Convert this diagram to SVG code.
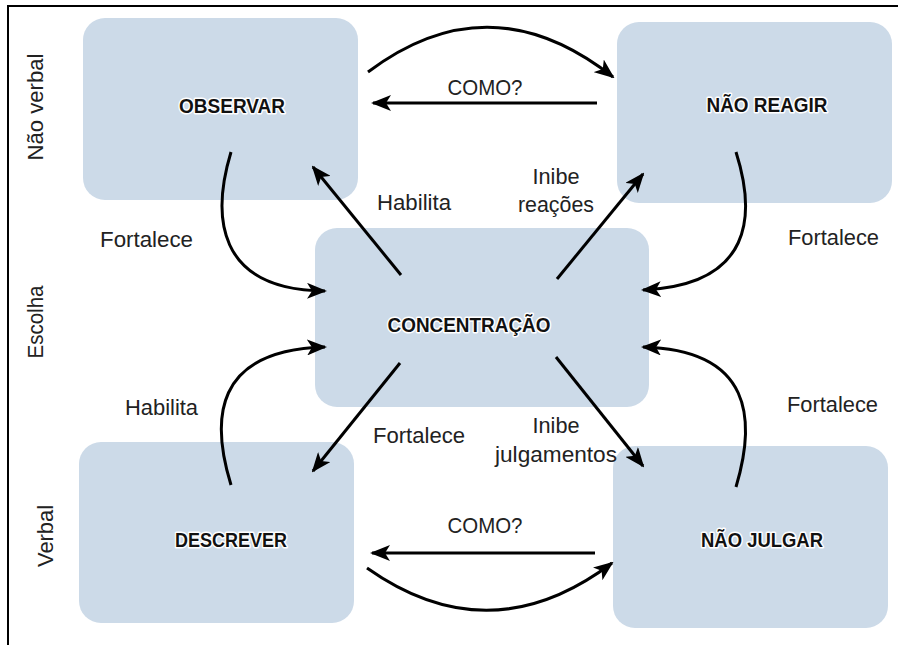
<svg xmlns="http://www.w3.org/2000/svg" width="898" height="645" viewBox="0 0 898 645">
<defs>
<style>
.box{fill:#ccdae8;}
.t{font-family:"Liberation Sans",Arial,sans-serif;font-size:20px;font-weight:bold;fill:#111;text-anchor:middle;stroke:#fff;stroke-width:3;stroke-linejoin:round;paint-order:stroke;}
.l{font-family:"Liberation Sans",Arial,sans-serif;font-size:22px;fill:#222;}
.side{font-family:"Liberation Sans",Arial,sans-serif;font-size:22px;fill:#222;text-anchor:middle;}
.c{fill:none;stroke:#000;stroke-width:3;}
</style>
<marker id="ah" markerUnits="userSpaceOnUse" markerWidth="20" markerHeight="16" viewBox="0 0 20 16" refX="18" refY="8" orient="auto">
<path d="M0,0 L20,8 L0,16 L5,8 Z" fill="#000"/>
</marker>
</defs>
<rect width="898" height="645" fill="#fff"/>
<g id="frame">
<line x1="7" y1="6" x2="898" y2="6" stroke="#000" stroke-width="2"/>
<line x1="8" y1="5" x2="8" y2="645" stroke="#000" stroke-width="2"/>
</g>
<g id="side-labels">
<text class="side" transform="translate(43,107) rotate(-90)" textLength="107" lengthAdjust="spacingAndGlyphs">Não verbal</text>
<text class="side" transform="translate(43,322) rotate(-90)" textLength="73" lengthAdjust="spacingAndGlyphs">Escolha</text>
<text class="side" transform="translate(53,536) rotate(-90)" textLength="62" lengthAdjust="spacingAndGlyphs">Verbal</text>
</g>
<g id="observar"><rect class="box" x="83" y="18" width="275" height="182" rx="22"/><text class="t" x="232" y="113" textLength="106" lengthAdjust="spacingAndGlyphs">OBSERVAR</text></g>
<g id="nao-reagir"><rect class="box" x="617" y="22" width="275" height="181" rx="22"/><text class="t" x="767" y="112" textLength="121" lengthAdjust="spacingAndGlyphs">NÃO REAGIR</text></g>
<g id="concentracao"><rect class="box" x="315" y="228" width="334" height="179" rx="22"/><text class="t" x="469" y="332" textLength="163" lengthAdjust="spacingAndGlyphs">CONCENTRAÇÃO</text></g>
<g id="descrever"><rect class="box" x="79" y="442" width="275" height="181" rx="22"/><text class="t" x="231" y="547" textLength="112" lengthAdjust="spacingAndGlyphs">DESCREVER</text></g>
<g id="nao-julgar"><rect class="box" x="613" y="446" width="275" height="182" rx="22"/><text class="t" x="762" y="547" textLength="122" lengthAdjust="spacingAndGlyphs">NÃO JULGAR</text></g>
<g id="connectors">
<path class="c" d="M368,72 Q490,-20 613,77" marker-end="url(#ah)"/>
<path class="c" d="M597,103 L373,103" marker-end="url(#ah)"/>
<path class="c" d="M595,553 L372,553" marker-end="url(#ah)"/>
<path class="c" d="M367,568 Q490,655 612,563" marker-end="url(#ah)"/>
<path class="c" d="M231,152 C212,215 215,290 325,291" marker-end="url(#ah)"/>
<path class="c" d="M231,485 C211,420 213,350 325,347" marker-end="url(#ah)"/>
<path class="c" d="M736,152 C756,215 753,285 643,290" marker-end="url(#ah)"/>
<path class="c" d="M736,487 C756,420 753,350 643,347" marker-end="url(#ah)"/>
<path class="c" d="M401,275 L313,167" marker-end="url(#ah)"/>
<path class="c" d="M557,279 L643,174" marker-end="url(#ah)"/>
<path class="c" d="M400,363 L313,471" marker-end="url(#ah)"/>
<path class="c" d="M556,357 L643,466" marker-end="url(#ah)"/>
</g>
<g id="labels">
<text class="l" x="485" y="95" text-anchor="middle" textLength="75" lengthAdjust="spacingAndGlyphs">COMO?</text>
<text class="l" x="485" y="533" text-anchor="middle" textLength="75" lengthAdjust="spacingAndGlyphs">COMO?</text>
<text class="l" x="377" y="210" textLength="74" lengthAdjust="spacingAndGlyphs">Habilita</text>
<text class="l" x="125" y="415" textLength="73" lengthAdjust="spacingAndGlyphs">Habilita</text>
<text class="l" x="100" y="247" textLength="93" lengthAdjust="spacingAndGlyphs">Fortalece</text>
<text class="l" x="788" y="245" textLength="91" lengthAdjust="spacingAndGlyphs">Fortalece</text>
<text class="l" x="373" y="443" textLength="92" lengthAdjust="spacingAndGlyphs">Fortalece</text>
<text class="l" x="787" y="412" textLength="91" lengthAdjust="spacingAndGlyphs">Fortalece</text>
<text class="l" x="556" y="184" text-anchor="middle" textLength="47" lengthAdjust="spacingAndGlyphs">Inibe</text>
<text class="l" x="556" y="212" text-anchor="middle" textLength="76" lengthAdjust="spacingAndGlyphs">reações</text>
<text class="l" x="556" y="433" text-anchor="middle" textLength="47" lengthAdjust="spacingAndGlyphs">Inibe</text>
<text class="l" x="556" y="462" text-anchor="middle" textLength="122" lengthAdjust="spacingAndGlyphs">julgamentos</text>
</g>
</svg>
